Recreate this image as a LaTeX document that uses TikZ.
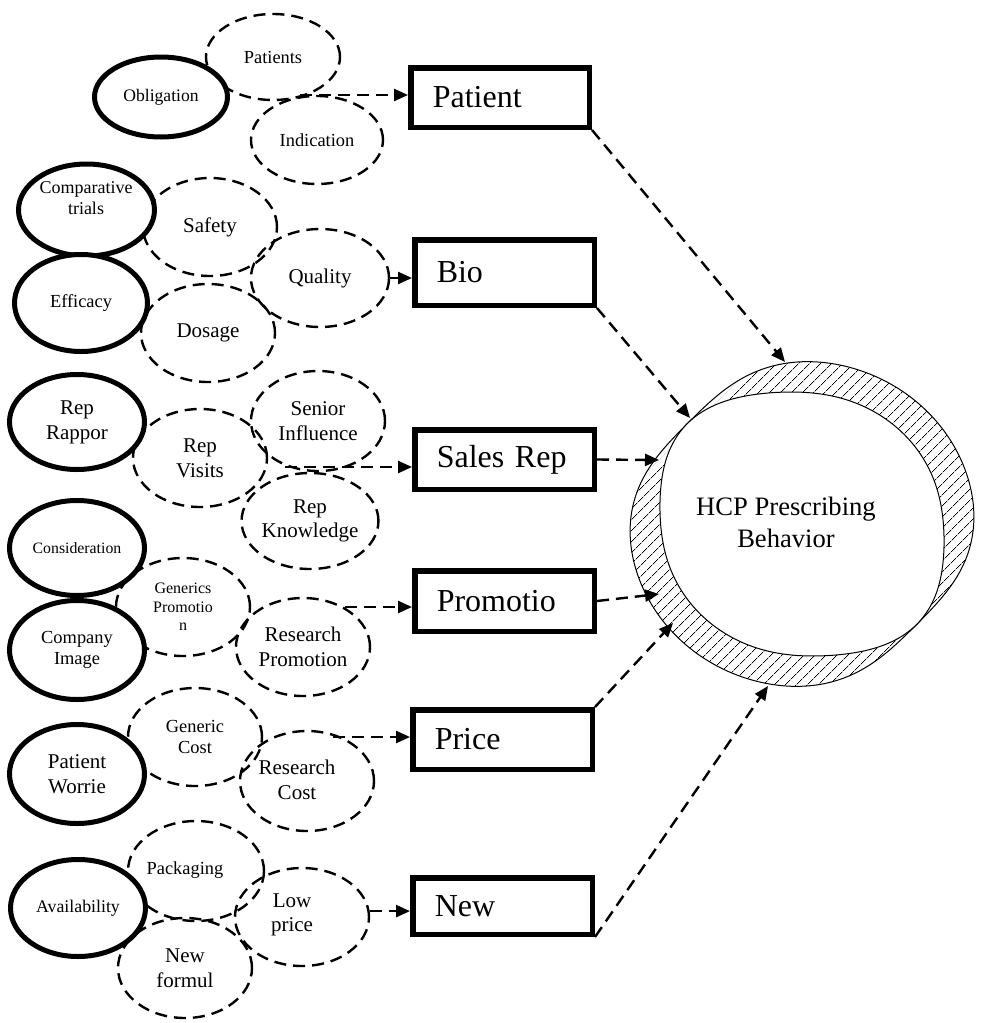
\documentclass[tikz,border=0pt]{standalone}
\usepackage{fontspec}
\setmainfont{Liberation Serif}
\usetikzlibrary{shapes.geometric,arrows.meta,patterns.meta}
\newcommand\ftL{\fontsize{10.5}{12.3}\selectfont}
\newcommand\ftM{\fontsize{9.2}{10.5}\selectfont}
\newcommand\ftS{\fontsize{8}{9.3}\selectfont}
\begin{document}
\begin{tikzpicture}[x=0.5pt,y=-0.5pt,
  sell/.style 2 args={ellipse, draw, line width=2.5pt, fill=white, inner sep=0pt, align=center, minimum width=#1pt, minimum height=#2pt},
  dell/.style 2 args={ellipse, draw, line width=1.2pt, dash pattern=on 6pt off 3.5pt, inner sep=0pt, align=center, minimum width=#1pt, minimum height=#2pt},
  box/.style 2 args={draw, line width=2.75pt, text width=#1pt, minimum height=#2pt, inner xsep=11pt, inner ysep=0pt, align=left, font=\fontsize{16}{19}\selectfont},
  conn/.style={line width=1.2pt, dash pattern=on 6pt off 3.5pt, -{Triangle[length=7pt,width=6pt]}},
  txt/.style={inner sep=0pt, align=center},
  ring/.style={line width=0.5pt, draw=black}
]
\useasboundingbox (0,0) rectangle (983,1023);

% dashed ellipses
\node[dell={67}{43}, font=\ftM] (patients) at (273,57) {Patients};
\node[dell={66}{44}, font=\ftM] (indication) at (317,140) {Indication};
\node[dell={67}{49}, font=\ftL] (safety) at (210,227) {Safety};
\node[dell={69}{49}, font=\ftL] (quality) at (320,278) {Quality};
\node[dell={67}{49}, font=\ftL] (dosage) at (208,333) {Dosage};
\node[dell={67}{49}, font=\ftL] (repvisits) at (200,458) {Rep\\Visits};
\node[dell={67}{50}, font=\ftL] (senior) at (318,421) {Senior\\Influence};
\node[dell={67}{48}, font=\ftL] (repknow) at (310,521) {Rep\\Knowledge};
\node[dell={67}{49}, font=\ftS] (genprom) at (183,607) {Generics\\Promotio\\n};
\node[dell={67}{49}, font=\ftL] (resprom) at (303,647) {Research\\Promotion};
\node[dell={67}{49}, font=\ftM] (gencost) at (195,737) {Generic\\Cost};
\node[dell={67}{50}] (rescost) at (307,781) {};
\node[txt, font=\ftL] (rescostt) at (297,780) {Research\\Cost};
\node[dell={68}{50}] (packaging) at (196,871) {};
\node[txt, font=\ftM] (packagingt) at (185,870) {Packaging};
\node[dell={67}{49}] (lowprice) at (302,917) {};
\node[txt, font=\ftL] (lowpricet) at (292,915) {Low\\price};
\node[dell={67}{50}, font=\ftL] (newform) at (185,968) {New\\formul};

% solid ellipses
\node[sell={66.5}{40}, font=\fontsize{8.8}{10}\selectfont] (oblig) at (161,97) {Obligation};
\node[sell={68}{46}] (comp) at (86.5,210) {};
\node[txt, font=\fontsize{9}{10.5}\selectfont] (compt) at (86,198) {Comparative\\trials};
\node[sell={66.5}{48.5}, font=\ftM] (efficacy) at (81,303) {Efficacy};
\node[sell={67.5}{47.5}, font=\fontsize{10.5}{12.5}\selectfont] (rapport) at (77,422) {Rep\\Rappor};
\node[sell={67.5}{47.5}, font=\fontsize{7.9}{9}\selectfont] (consid) at (77,548) {Consideration};
\node[sell={67.5}{49.5}, font=\ftM] (company) at (77,650) {Company\\Image};
\node[sell={67.5}{49.5}, font=\ftL] (worrie) at (77,774) {Patient\\Worrie};
\node[sell={67.5}{48.5}, font=\fontsize{8.9}{10}\selectfont] (avail) at (78,908) {Availability};

% boxes
\node[box={67.25}{29.75}] (patient) at (500,97.5) {Patient};
\node[box={67.75}{32.75}] (bio) at (504.5,272.5) {Bio};
\node[box={67.75}{29.75}] (salesrep) at (504.5,459.5) {Sales Rep};
\node[box={67.75}{30.25}] (promotio) at (504.5,601) {Promotio};
\node[box={67.75}{29.75}] (price) at (502.5,739.5) {Price};
\node[box={67.75}{28.25}] (new) at (502.5,906) {New};

% ring: outer hatched band pinched at NW and SE, inner white
\path[ring, pattern={Lines[angle=45,distance=4pt,line width=0.35pt]}]
  plot[domain=0:358, samples=180, smooth]
  ({802+(173-16*(abs(cos(\x-137)))^8)*cos(\x)}, {524-(163-16*(abs(cos(\x-137)))^8)*sin(\x)}) -- cycle;
\path[ring, fill=white]
  plot[domain=0:358, samples=180, smooth]
  ({802+(140+17*(abs(cos(\x-137)))^8)*cos(\x)}, {524-(131+16*(abs(cos(\x-137)))^8)*sin(\x)}) -- cycle;
\node[txt, font=\fontsize{13.3}{16}\selectfont] (hcp) at (786,522) {HCP Prescribing\\Behavior};

% connector ends
\coordinate (c1) at (300,95);
\coordinate (c3) at (285,467);
\coordinate (c4) at (345,607);
\coordinate (c5) at (333,737);
\coordinate (t1) at (785,362);
\coordinate (t2) at (690,418);
\coordinate (t3) at (659,460);
\coordinate (t4) at (659,594);
\coordinate (t5) at (673,623);
\coordinate (t6) at (768,686);

\draw[conn] (c1) -- (c1 -| patient.west);
\draw[conn] (quality.east) -- (quality.east -| bio.west);
\draw[conn] (c3) -- (c3 -| salesrep.west);
\draw[conn] (c4) -- (c4 -| promotio.west);
\draw[conn] (c5) -- (c5 -| price.west);
\draw[conn] (lowprice.5) -- (lowprice.5 -| new.west);
\draw[conn] (patient.south east) -- (t1);
\draw[conn] (bio.south east) -- (t2);
\draw[conn] (salesrep.east) -- (t3);
\draw[conn] (promotio.east) -- (t4);
\draw[conn] (price.north east) -- (t5);
\draw[conn] (new.south east) -- (t6);
\end{tikzpicture}
\end{document}
